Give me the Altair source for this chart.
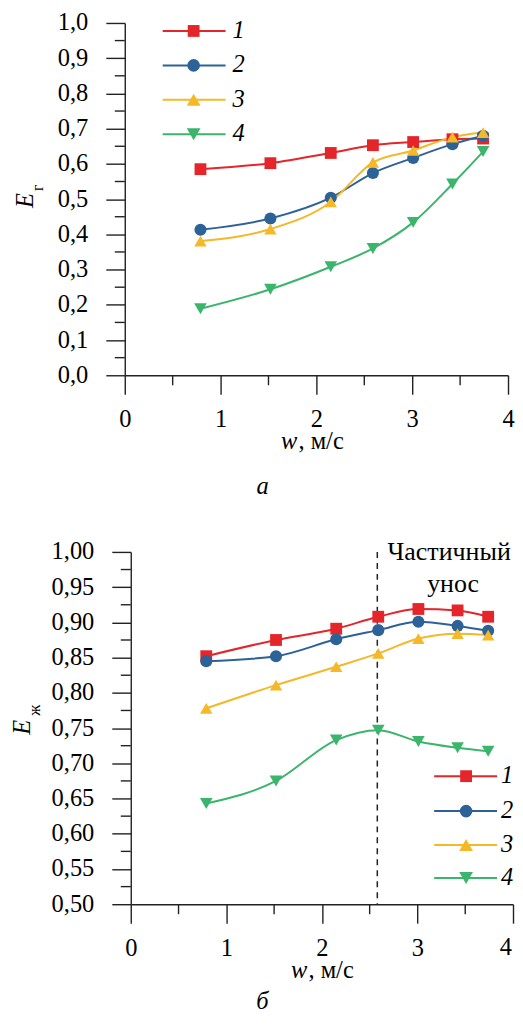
import altair as alt
import pandas as pd

# ---------------- data ----------------
series = ["1", "2", "3", "4"]
w = [0.79, 1.52, 2.15, 2.59, 3.01, 3.42, 3.74]

# panel a: E_г
eg_1 = [0.585, 0.602, 0.631, 0.653, 0.662, 0.670, 0.672]
eg_2 = [0.413, 0.445, 0.504, 0.574, 0.617, 0.656, 0.680]
eg_3 = [0.381, 0.415, 0.492, 0.604, 0.638, 0.676, 0.689]
eg_4 = [0.189, 0.244, 0.308, 0.360, 0.434, 0.543, 0.635]

# panel б: E_ж
ez_1 = [0.852, 0.875, 0.891, 0.908, 0.919, 0.917, 0.908]
ez_2 = [0.845, 0.852, 0.876, 0.889, 0.901, 0.895, 0.888]
ez_3 = [0.778, 0.811, 0.837, 0.856, 0.877, 0.884, 0.882]
ez_4 = [0.643, 0.675, 0.733, 0.747, 0.731, 0.722, 0.717]

x_major = [0, 1, 2, 3, 4]
x_minor = [0.5, 1.5, 2.5, 3.5]
ya_major = [round(0.1 * i, 2) for i in range(11)]
ya_minor = [round(0.05 + 0.1 * i, 3) for i in range(10)]
yb_major = [round(0.5 + 0.05 * i, 3) for i in range(11)]
yb_minor = [round(0.525 + 0.05 * i, 4) for i in range(10)]
entrainment_w = [2.58]
entrainment_text = ["Частичный", "унос"]

# ---------------- style ----------------
FONT = "Liberation Serif"
COLORS = ["#E4252A", "#2D6298", "#F5B826", "#3BB46C"]
SHAPES = ["square", "circle", "triangle-up", "triangle-down"]
SIZES = [140, 160, 190, 190]
AX = "#222222"
H = 353
FS = 24.5
TICK = 19
XLPAD = 13


def make_df(vals):
    rows = []
    for s, ys in zip(series, vals):
        for xv, yv in zip(w, ys):
            rows.append({"w": xv, "E": yv, "s": s})
    return pd.DataFrame(rows)


def one():
    return pd.DataFrame({"d": [0]})


def txt(t, x, y, size=FS, style="normal", align="center", baseline="alphabetic", angle=0):
    return alt.Chart(one()).mark_text(
        text=t, font=FONT, fontSize=size, fontStyle=style, align=align,
        baseline=baseline, angle=angle, color="black"
    ).encode(x=alt.value(x), y=alt.value(y))


def panel(vals, ydom, ymaj, ymin, yfmt, x0, width, leg, title_e, title_sub, sub_txt,
          xsplit, caption, cap_pos, last_label_inside=False, extra=None):
    xs = alt.Scale(domain=[0, 4], range=[x0, width], nice=False, zero=False)
    ys = alt.Scale(domain=ydom, nice=False, zero=False)
    df = make_df(vals)
    color = alt.Color("s:N", scale=alt.Scale(domain=series, range=COLORS), legend=None)
    shape = alt.Shape("s:N", scale=alt.Scale(domain=series, range=SHAPES), legend=None)
    size = alt.Size("s:N", scale=alt.Scale(domain=series, range=SIZES), legend=None)

    if last_label_inside:
        xl_expr = f"datum.value == {x_major[-1]} ? '' : format(datum.value, 'd')"
    else:
        xl_expr = "format(datum.value, 'd')"
    x_axis = alt.Axis(values=x_major, labelExpr=xl_expr, title=None, grid=False,
                      tickSize=TICK, labelPadding=XLPAD, labelFont=FONT, labelFontSize=FS,
                      labelColor="black", labelFlush=False, labelOverlap=False,
                      domainColor=AX, tickColor=AX, domainWidth=1.4, tickWidth=1.4)
    y_axis = alt.Axis(values=ymaj, labelExpr=f"replace(format(datum.value, '{yfmt}'), '.', ',')",
                      title=None, grid=False, tickSize=TICK, labelPadding=18, offset=-x0,
                      labelFont=FONT, labelFontSize=FS, labelColor="black",
                      labelOverlap=False, labelFlush=False,
                      domainColor=AX, tickColor=AX, domainWidth=1.4, tickWidth=1.4)

    def X(field):
        return alt.X(field, type="quantitative", scale=xs, axis=x_axis)

    def Y(field):
        return alt.Y(field, type="quantitative", scale=ys, axis=y_axis)

    layers = []
    if extra is not None:
        layers += extra(X, Y)
    lines = alt.Chart(df).mark_line(interpolate="monotone", strokeWidth=2).encode(
        x=X("w"), y=Y("E"), color=color,
    )
    pts = alt.Chart(df).mark_point(filled=True, opacity=1).encode(
        x=X("w"), y=Y("E"), color=color, shape=shape, size=size,
    )
    layers += [lines, pts]

    # minor ticks
    layers.append(alt.Chart(pd.DataFrame({"E": ymin})).mark_rule(color=AX, strokeWidth=1.4).encode(
        y=Y("E"), x=alt.value(x0 - 10), x2=alt.value(x0)))
    layers.append(alt.Chart(pd.DataFrame({"w": x_minor})).mark_rule(color=AX, strokeWidth=1.4).encode(
        x=X("w"), y=alt.value(H), y2=alt.value(H + 10)))

    # last x label kept inside the page edge
    if last_label_inside:
        layers.append(txt(str(x_major[-1]), width - 1, H + TICK + XLPAD, align="right", baseline="top"))

    # legend
    lx0, lx1, lxm, ltx, rows = leg
    for i, s in enumerate(series):
        ld = pd.DataFrame({"s": [s]})
        layers.append(alt.Chart(ld).mark_rule(color=COLORS[i], strokeWidth=2).encode(
            x=alt.value(lx0), x2=alt.value(lx1), y=alt.value(rows[i])))
        layers.append(alt.Chart(ld).mark_point(shape=SHAPES[i], filled=True, opacity=1,
                                              color=COLORS[i], size=SIZES[i]).encode(
            x=alt.value(lxm), y=alt.value(rows[i])))
        layers.append(alt.Chart(ld).mark_text(font=FONT, fontSize=FS, fontStyle="italic",
                                             align="left", baseline="middle", color="black").encode(
            text="s:N", x=alt.value(ltx), y=alt.value(rows[i])))

    # y title E with subscript
    layers.append(txt("E", title_e[0], title_e[1], style="italic", baseline="middle", angle=270))
    layers.append(txt(sub_txt, title_sub[0], title_sub[1], size=16, baseline="middle", angle=270))
    # x title
    layers.append(txt("w", xsplit, 427, style="italic", align="right"))
    layers.append(txt(", м/с", xsplit + 1, 427, align="left"))
    # caption
    layers.append(txt(caption, cap_pos[0], cap_pos[1], style="italic"))

    return alt.layer(*layers).properties(width=width, height=H)


def extra_b(X, Y):
    dash = alt.Chart(pd.DataFrame({"w": entrainment_w})).mark_rule(
        strokeDash=[6, 5], strokeWidth=1.5, color=AX).encode(
        x=X("w"), y=alt.value(0), y2=alt.value(H))
    t1 = txt(entrainment_text[0], 325, 8.4, size=26)
    t2 = txt(entrainment_text[1], 329, 40, size=26)
    return [dash, t1, t2]


top = panel([eg_1, eg_2, eg_3, eg_4], [0, 1], ya_major, ya_minor, ".1f", 0, 384,
            (38, 101, 69, 108, [8, 42.5, 77, 111.5]),
            (-99, 178), (-87, 165), "г", 173, "а", (138, 472))
bottom = panel([ez_1, ez_2, ez_3, ez_4], [0.5, 1.0], yb_major, yb_minor, ".2f", 6, 389,
               (310, 373, 342, 377, [224.7, 259.7, 293.7, 326.7]),
               (-102, 175.7), (-90, 158.7), "ж", 183, "б", (138, 458),
               last_label_inside=True, extra=extra_b)

chart = alt.vconcat(top, bottom, spacing=177, bounds="flush").properties(
    padding={"left": 2, "top": 1, "right": 0, "bottom": 0},
    background="white",
).configure_view(stroke=None)

chart.save("out.html", embed_options={"renderer": "svg", "actions": False})
